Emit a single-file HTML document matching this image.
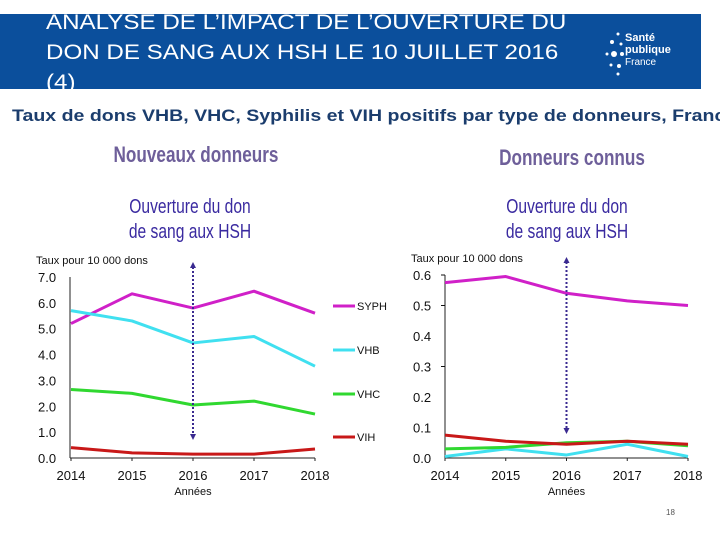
<!DOCTYPE html>
<html><head><meta charset="utf-8">
<style>
body{margin:0;background:#fff;width:720px;height:540px;overflow:hidden;position:relative;font-family:"Liberation Sans",sans-serif}
.banner{position:absolute;left:0;top:14px;width:701px;height:75px;background:#0b4f9c;overflow:hidden}
.title{position:absolute;left:46px;top:-6px;color:#fff;font-size:21px;line-height:30px;white-space:nowrap;transform:scaleX(1.15);transform-origin:left}
.sub{position:absolute;left:12px;top:106px;color:#1b3d6d;font-weight:bold;font-size:17px;white-space:nowrap;transform:scaleX(1.15);transform-origin:left}
.h{position:absolute;color:#6e5f9a;font-size:22px;font-weight:bold;white-space:nowrap;transform:translateX(-50%) scaleX(0.78)}
.o{position:absolute;color:#3a2aa0;font-size:20px;line-height:25px;text-align:center;white-space:nowrap;transform:translateX(-50%) scaleX(0.78)}
</style></head><body>
<div class="banner">
<div class="title">ANALYSE DE L’IMPACT DE L’OUVERTURE DU<br>DON DE SANG AUX HSH LE 10 JUILLET 2016<br>(4)</div>
<div style="position:absolute;left:602px;top:16px;width:90px;height:48px">
<svg width="30" height="48" style="position:absolute;left:0;top:0"><g fill="#fff"><circle cx="16" cy="4" r="1.5"/><circle cx="10" cy="12" r="2"/><circle cx="19" cy="14" r="1.5"/><circle cx="5" cy="24" r="1.5"/><circle cx="12" cy="24" r="3"/><circle cx="20" cy="24" r="2"/><circle cx="9" cy="35" r="1.5"/><circle cx="17" cy="36" r="2"/><circle cx="16" cy="44" r="1.5"/></g></svg>
<div style="position:absolute;left:23px;top:2px;color:#fff;font-size:11px;font-weight:bold;line-height:12px">Santé<br>publique<br><span style="font-weight:normal;font-size:10px">France</span></div>
</div>
</div>
<div class="sub">Taux de dons VHB, VHC, Syphilis et VIH positifs par type de donneurs, France</div>
<div class="h" style="left:196px;top:142px">Nouveaux donneurs</div>
<div class="h" style="left:572px;top:145px">Donneurs connus</div>
<div class="o" style="left:190px;top:195px">Ouverture du don<br>de sang aux HSH</div>
<div class="o" style="left:567px;top:195px">Ouverture du don<br>de sang aux HSH</div>
<svg id="c" width="720" height="540" style="position:absolute;left:0;top:0" font-family="Liberation Sans, sans-serif"></svg>
<div style="position:absolute;left:666px;top:508px;font-size:8px;color:#555">18</div>
<script>
const years=[2014,2015,2016,2017,2018];
const seriesNames=["SYPH","VHB","VHC","VIH"];
const colors=["#d020c8","#40e0f0","#30d830","#c81818"];
const newSYPH=[5.2,6.35,5.8,6.45,5.6];
const newVHB=[5.7,5.3,4.45,4.7,3.55];
const newVHC=[2.65,2.5,2.05,2.2,1.7];
const newVIH=[0.4,0.2,0.15,0.15,0.35];
const knownSYPH=[0.575,0.595,0.54,0.515,0.5];
const knownVHB=[0.005,0.03,0.01,0.045,0.005];
const knownVHC=[0.03,0.035,0.05,0.055,0.04];
const knownVIH=[0.075,0.055,0.045,0.055,0.045];
const leftTicks=["0.0","1.0","2.0","3.0","4.0","5.0","6.0","7.0"];
const rightTicks=["0.0","0.1","0.2","0.3","0.4","0.5","0.6"];
const svg=document.getElementById('c');
const NS="http://www.w3.org/2000/svg";
function mk(t,a,txt){const e=document.createElementNS(NS,t);for(const k in a)e.setAttribute(k,a[k]);if(txt!=null)e.textContent=txt;svg.appendChild(e);return e;}
function panel(p){
 const xs=i=>p.x0+(p.x1-p.x0)*i/(years.length-1);
 const ys=v=>p.y0-(p.y0-p.yt)*v/p.max;
 let e=mk('line',{x1:p.ax,y1:p.yt,x2:p.ax,y2:p.y0,stroke:'#222','stroke-width':1});
 
 e=mk('line',{x1:p.ax,y1:p.y0,x2:p.x1,y2:p.y0,stroke:'#222','stroke-width':1});
 
 p.ticks.forEach(t=>{const v=parseFloat(t);
  e=mk('text',{x:p.tx,y:ys(v)+5,'font-size':13,fill:'#111'},t);
  
  if(p.dash&&v>0.25&&Math.abs(v-0.4)>0.01){mk('line',{x1:p.tx+28,y1:ys(v),x2:p.tx+32,y2:ys(v),stroke:'#111'});}
 });
 years.forEach((y,i)=>{
  e=mk('text',{x:xs(i),y:p.y0+22,'font-size':13,fill:'#111','text-anchor':'middle'},y);
  
  mk('line',{x1:xs(i),y1:p.y0,x2:xs(i),y2:p.y0+3,stroke:'#222'});
 });
 e=mk('text',{x:p.tx-2,y:p.yt-13,'font-size':11,fill:'#111'},'Taux pour 10 000 dons');
 
 e=mk('text',{x:xs(2),y:p.y0+37,'font-size':11,fill:'#111','text-anchor':'middle'},'Années');
 
 p.data.forEach((d,k)=>{
  e=mk('polyline',{points:d.map((v,i)=>xs(i)+','+ys(v)).join(' '),fill:'none',stroke:colors[k],'stroke-width':3,'stroke-linejoin':'round'});
  
 });
 const ax=xs(2);
 e=mk('line',{x1:ax,y1:p.ay0+5,x2:ax,y2:p.ay1-5,stroke:'#3a2a90','stroke-width':2,'stroke-dasharray':'2,2'});
 
 mk('path',{d:`M${ax-3},${p.ay0+6} L${ax},${p.ay0} L${ax+3},${p.ay0+6}Z`,fill:'#3a2a90'});
 mk('path',{d:`M${ax-3},${p.ay1-6} L${ax},${p.ay1} L${ax+3},${p.ay1-6}Z`,fill:'#3a2a90'});
}
panel({n:'left',ax:70,x0:71,x1:315,y0:458,yt:277,max:7,ticks:leftTicks,tx:38,data:[newSYPH,newVHB,newVHC,newVIH],ay0:262,ay1:440,dash:false});
panel({n:'right',ax:445,x0:445,x1:688,y0:458,yt:275,max:0.6,ticks:rightTicks,tx:413,data:[knownSYPH,knownVHB,knownVHC,knownVIH],ay0:257,ay1:434,dash:true});
const legY=[306,350,394,437];
seriesNames.forEach((s,k)=>{
 let e=mk('line',{x1:333,y1:legY[k],x2:355,y2:legY[k],stroke:colors[k],'stroke-width':3});
 
 e=mk('text',{x:357,y:legY[k]+4,'font-size':11,fill:'#111'},s);
 
});
</script>
</body></html>
